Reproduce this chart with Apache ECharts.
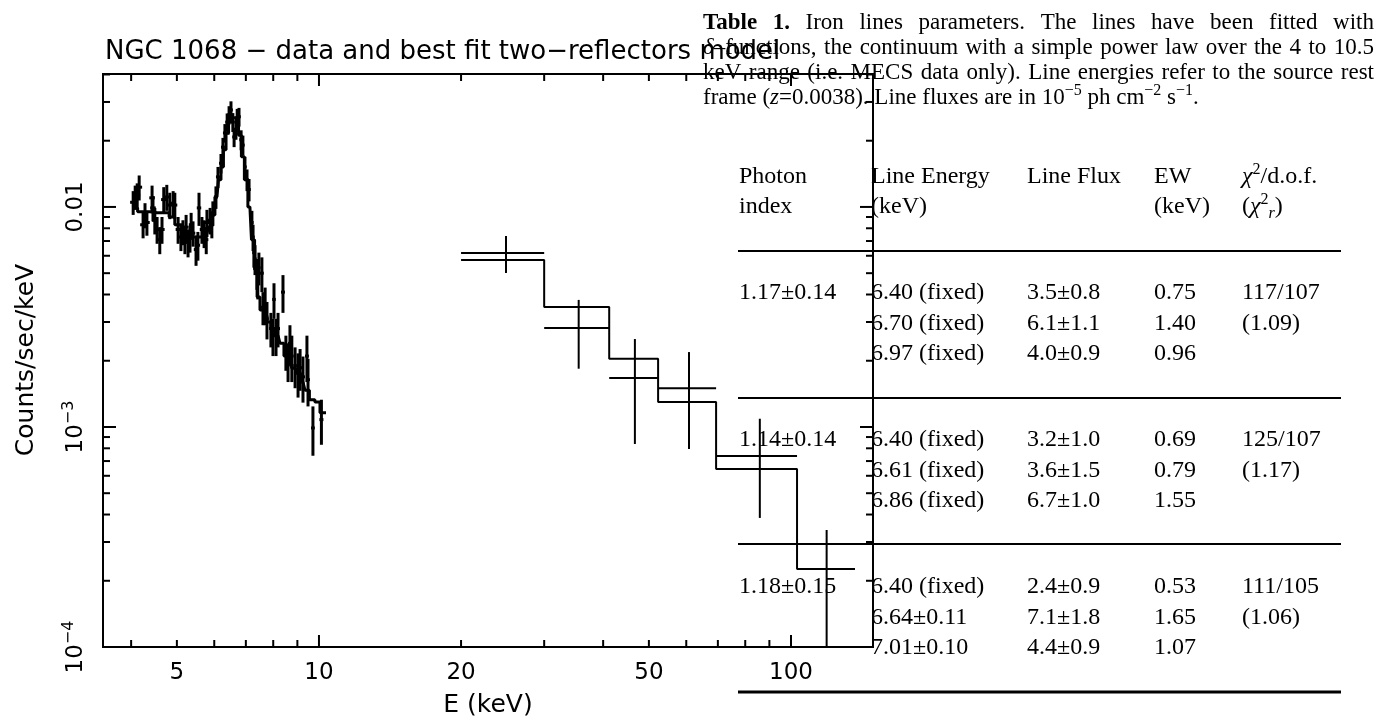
<!DOCTYPE html>
<html>
<head>
<meta charset="utf-8">
<title>NGC 1068</title>
<script src="https://cdn.jsdelivr.net/npm/echarts@6.0.0/dist/echarts.min.js"></script>
<style>
  html, body { margin: 0; padding: 0; background: #fff; }
  #chart { width: 1380px; height: 721px; }
</style>
</head>
<body>
<div id="chart"></div>
<script>
// MECS points: [E (keV), half bin width, counts/sec/keV, 1 sigma]
var mecsData = [
  [4.04, 0.06, 0.0105, 0.0013], [4.08, 0.06, 0.0111, 0.0014], [4.12, 0.06, 0.0113, 0.0015],
  [4.16, 0.06, 0.0123, 0.0016], [4.24, 0.06, 0.0083, 0.0011], [4.28, 0.06, 0.0092, 0.0012],
  [4.32, 0.06, 0.0085, 0.0011], [4.43, 0.06, 0.0110, 0.0015], [4.45, 0.06, 0.0099, 0.0013],
  [4.49, 0.06, 0.0087, 0.0012], [4.54, 0.06, 0.0079, 0.0011], [4.60, 0.06, 0.0071, 0.0010],
  [4.65, 0.06, 0.0079, 0.0011], [4.69, 0.06, 0.0108, 0.0015], [4.76, 0.06, 0.0111, 0.0015],
  [4.83, 0.06, 0.0102, 0.0014], [4.91, 0.06, 0.0104, 0.0014], [4.95, 0.06, 0.0102, 0.0014],
  [5.03, 0.06, 0.0079, 0.0011], [5.10, 0.06, 0.0073, 0.0010], [5.15, 0.06, 0.0077, 0.0010],
  [5.20, 0.06, 0.0071, 0.0010], [5.23, 0.06, 0.0081, 0.0011], [5.28, 0.06, 0.0069, 0.0010],
  [5.33, 0.06, 0.0072, 0.0010], [5.36, 0.06, 0.0083, 0.0011], [5.41, 0.06, 0.0076, 0.0010],
  [5.49, 0.06, 0.0064, 0.0010], [5.54, 0.06, 0.0067, 0.0010], [5.57, 0.06, 0.0099, 0.0017],
  [5.65, 0.06, 0.0079, 0.0011], [5.71, 0.06, 0.0076, 0.0011], [5.77, 0.06, 0.0071, 0.0010],
  [5.79, 0.06, 0.0085, 0.0012], [5.88, 0.06, 0.0087, 0.0012], [5.93, 0.06, 0.0083, 0.0011],
  [5.96, 0.06, 0.0094, 0.0012], [6.05, 0.06, 0.0111, 0.0013], [6.11, 0.06, 0.0137, 0.0015],
  [6.20, 0.06, 0.0158, 0.0016], [6.26, 0.06, 0.0187, 0.0019], [6.32, 0.06, 0.0217, 0.0021],
  [6.39, 0.06, 0.0243, 0.0023], [6.42, 0.06, 0.0236, 0.0023], [6.45, 0.06, 0.0262, 0.0025],
  [6.51, 0.06, 0.0276, 0.0026], [6.57, 0.06, 0.0243, 0.0024], [6.61, 0.06, 0.0208, 0.0021],
  [6.67, 0.06, 0.0224, 0.0022], [6.71, 0.06, 0.0254, 0.0025], [6.77, 0.06, 0.0257, 0.0025],
  [6.84, 0.06, 0.0202, 0.0021], [6.90, 0.06, 0.0191, 0.0020], [6.97, 0.06, 0.0152, 0.0017],
  [7.04, 0.06, 0.0133, 0.0015], [7.11, 0.06, 0.0120, 0.0014], [7.21, 0.06, 0.0085, 0.0011],
  [7.25, 0.06, 0.0073, 0.0010], [7.28, 0.06, 0.0062, 0.0009], [7.32, 0.06, 0.0058, 0.0009],
  [7.39, 0.06, 0.0050, 0.0008], [7.42, 0.06, 0.0045, 0.0007], [7.46, 0.06, 0.0053, 0.0009],
  [7.57, 0.07, 0.0050, 0.0009], [7.61, 0.07, 0.0035, 0.0006], [7.69, 0.07, 0.0036, 0.0007],
  [7.76, 0.07, 0.0031, 0.0006], [7.91, 0.07, 0.0028, 0.0005], [7.99, 0.07, 0.0026, 0.0005],
  [8.03, 0.07, 0.0038, 0.0007], [8.11, 0.07, 0.0026, 0.0005], [8.19, 0.08, 0.0028, 0.0005],
  [8.39, 0.08, 0.0041, 0.0008], [8.51, 0.08, 0.0022, 0.0004], [8.60, 0.08, 0.0020, 0.0004],
  [8.68, 0.08, 0.0024, 0.0005], [8.76, 0.08, 0.0021, 0.0005], [8.90, 0.08, 0.0019, 0.0004],
  [9.03, 0.09, 0.00176, 0.0004], [9.12, 0.09, 0.00186, 0.0004], [9.25, 0.09, 0.00169, 0.0004],
  [9.43, 0.09, 0.0021, 0.0005], [9.48, 0.09, 0.00164, 0.0004], [9.71, 0.09, 0.00099, 0.00025],
  [10.12, 0.1, 0.00108, 0.00025]
];

// PDS points: [E, E low, E high, rate, rate low, rate high]
var pdsData = [
  [24.9, 20, 30, 6.18e-3, 5.01e-3, 7.38e-3],
  [35.5, 30, 41.2, 2.82e-3, 1.84e-3, 3.78e-3],
  [46.7, 41.2, 52.3, 1.67e-3, 8.37e-4, 2.51e-3],
  [60.8, 52.3, 69.4, 1.50e-3, 7.94e-4, 2.19e-3],
  [85.9, 69.4, 103, 7.38e-4, 3.86e-4, 1.09e-3],
  [119, 103, 136.6, 2.26e-4, 1e-6, 3.40e-4]
];

// best fit model (two reflectors)
var mecsModel = [
  [4.02, 0.0099], [4.24, 0.0095], [4.54, 0.0094], [4.76, 0.0094], [4.87, 0.0090],
  [5.03, 0.0083], [5.25, 0.0076], [5.52, 0.0073], [5.65, 0.0073], [5.79, 0.0076],
  [5.88, 0.0081], [5.96, 0.0092], [6.08, 0.0111], [6.17, 0.0133], [6.23, 0.0152],
  [6.32, 0.0182], [6.39, 0.0217], [6.48, 0.0243], [6.55, 0.0254], [6.64, 0.0254],
  [6.71, 0.0243], [6.80, 0.0212], [6.90, 0.0169], [7.00, 0.0133], [7.14, 0.0100],
  [7.25, 0.0071], [7.36, 0.0052], [7.43, 0.0039], [7.57, 0.0034], [7.69, 0.0032],
  [7.83, 0.0030], [7.99, 0.0028], [8.19, 0.0026], [8.35, 0.0024], [8.51, 0.0021],
  [8.68, 0.00195], [8.85, 0.00185], [9.03, 0.00176], [9.25, 0.0016], [9.43, 0.00147],
  [9.66, 0.00133], [9.95, 0.0013], [10.15, 0.00116], [10.35, 0.00116]
];
var pdsModel = [
  [20, 5.74e-3], [30, 3.51e-3], [41.2, 2.04e-3], [52.3, 1.30e-3],
  [69.4, 6.44e-4], [103, 2.26e-4], [136.6, 2.26e-4]
];

var xMajorTicks = [10, 100];
var xMinorTicks = [4, 5, 6, 7, 8, 9, 20, 30, 40, 50, 60, 70, 80, 90];
var xTickLabels = [5, 10, 20, 50, 100];
var yMajorTicks = [0.0001, 0.001, 0.01];
var yMinorTicks = [2e-4, 3e-4, 4e-4, 5e-4, 6e-4, 7e-4, 8e-4, 9e-4,
  2e-3, 3e-3, 4e-3, 5e-3, 6e-3, 7e-3, 8e-3, 9e-3, 0.02, 0.03, 0.04];
var yTickLabels = [0.0001, 0.001, 0.01];
var yTickTexts = ['{n|10}{s|−4}', '{n|10}{s|−3}', '{n|0.01}'];

var xMin = 3.487, xMax = 149.2, yMin = 1e-4, yMax = 0.0402;

// table 1
var photonIndex = ['1.17±0.14', '1.14±0.14', '1.18±0.15'];
var lineEnergy = [
  ['6.40 (fixed)', '6.70 (fixed)', '6.97 (fixed)'],
  ['6.40 (fixed)', '6.61 (fixed)', '6.86 (fixed)'],
  ['6.40 (fixed)', '6.64±0.11', '7.01±0.10']
];
var lineFlux = [
  ['3.5±0.8', '6.1±1.1', '4.0±0.9'],
  ['3.2±1.0', '3.6±1.5', '6.7±1.0'],
  ['2.4±0.9', '7.1±1.8', '4.4±0.9']
];
var lineEW = [
  ['0.75', '1.40', '0.96'],
  ['0.69', '0.79', '1.55'],
  ['0.53', '1.65', '1.07']
];
var chiSquare = [['117/107', '(1.09)'], ['125/107', '(1.17)'], ['111/105', '(1.06)']];
var captionLines = [
  '{b|Table} {b|1.} Iron lines parameters. The lines have been fitted with',
  '{i|δ}–functions, the continuum with a simple power law over the 4 to 10.5',
  'keV range (i.e. MECS data only). Line energies refer to the source rest'
];
var captionLast = 'frame ({i|z}=0.0038). Line fluxes are in 10{sup|−5} ph cm{sup|−2} s{sup|−1}.';

var SANS = 'DejaVu Sans';
var SERIF = 'Liberation Serif';

function errorBarItem(width) {
  return function (params, api) {
    var l = api.coord([api.value(1), api.value(3)]);
    var r = api.coord([api.value(2), api.value(3)]);
    var lo = api.coord([api.value(0), api.value(4)]);
    var hi = api.coord([api.value(0), api.value(5)]);
    var st = { stroke: '#000', lineWidth: width };
    return {
      type: 'group', children: [
        { type: 'line', shape: { x1: l[0], y1: l[1], x2: r[0], y2: r[1] }, style: st },
        { type: 'line', shape: { x1: lo[0], y1: lo[1], x2: hi[0], y2: hi[1] }, style: st }
      ]
    };
  };
}

function xTickItem(len) {
  return function (params, api) {
    var b = api.coord([api.value(0), yMin]);
    var t = api.coord([api.value(0), yMax]);
    var st = { stroke: '#000', lineWidth: 2 };
    return {
      type: 'group', children: [
        { type: 'line', shape: { x1: b[0], y1: b[1], x2: b[0], y2: b[1] - len }, style: st },
        { type: 'line', shape: { x1: t[0], y1: t[1], x2: t[0], y2: t[1] + len }, style: st }
      ]
    };
  };
}

function yTickItem(len) {
  return function (params, api) {
    var l = api.coord([xMin, api.value(1)]);
    var r = api.coord([xMax, api.value(1)]);
    var st = { stroke: '#000', lineWidth: 2 };
    return {
      type: 'group', children: [
        { type: 'line', shape: { x1: l[0], y1: l[1], x2: l[0] + len, y2: l[1] }, style: st },
        { type: 'line', shape: { x1: r[0], y1: r[1], x2: r[0] - len, y2: r[1] }, style: st }
      ]
    };
  };
}

function tickSeries(data, render) {
  return {
    type: 'custom', silent: true, clip: false,
    encode: { x: 0, y: 1 },
    data: data, renderItem: render
  };
}

function serifRich(size) {
  return {
    b: { fontFamily: SERIF, fontSize: size, fontWeight: 'bold', lineHeight: 30 },
    i: { fontFamily: SERIF, fontSize: size, fontStyle: 'italic', lineHeight: 30 },
    sup: { fontFamily: SERIF, fontSize: Math.round(size * 0.68), lineHeight: 14, verticalAlign: 'top' },
    sub: { fontFamily: SERIF, fontSize: Math.round(size * 0.68), fontStyle: 'italic', lineHeight: 12, verticalAlign: 'bottom' }
  };
}

function serifText(str, x, y, size) {
  return {
    type: 'text', x: x, y: y, silent: true,
    style: {
      text: str, fontFamily: SERIF, fontSize: size, lineHeight: 30, fill: '#000',
      textAlign: 'left', align: 'left', textVerticalAlign: 'middle', verticalAlign: 'middle',
      rich: serifRich(size)
    }
  };
}

// caption, justified between capLeft and capRight
var capLeft = 703, capRight = 1374, capSize = 23;
var capY = [23, 48, 73, 98];
var measureCtx = document.createElement('canvas').getContext('2d');
function plainText(s) { return s.replace(/\{\w+\|([^}]*)\}/g, '$1'); }
function wordWidth(w) {
  measureCtx.font = (w.indexOf('{b|') >= 0 ? 'bold ' : '') + capSize + 'px "' + SERIF + '"';
  return measureCtx.measureText(plainText(w)).width;
}
function justifiedLine(str, y) {
  var words = str.split(' ');
  var widths = words.map(wordWidth);
  var total = widths.reduce(function (a, b) { return a + b; }, 0);
  var gap = (capRight - capLeft - total) / (words.length - 1);
  var x = capLeft, out = [];
  words.forEach(function (w, i) {
    out.push(serifText(w, x, y, capSize));
    x += widths[i] + gap;
  });
  return out;
}

var graphics = [];
captionLines.forEach(function (line, i) {
  graphics = graphics.concat(justifiedLine(line, capY[i]));
});
graphics.push(serifText(captionLast, capLeft, capY[3], capSize));

// table body
var bodySize = 24;
var colX = [739, 871, 1027, 1154, 1242];
var headY = [177, 207];
var groupY = [293, 440, 587];
var rowStep = 30.5;
var ruleY = [251, 398, 544];
graphics.push(serifText('Photon', colX[0], headY[0], bodySize));
graphics.push(serifText('index', colX[0], headY[1], bodySize));
graphics.push(serifText('Line Energy', colX[1], headY[0], bodySize));
graphics.push(serifText('(keV)', colX[1], headY[1], bodySize));
graphics.push(serifText('Line Flux', colX[2], headY[0], bodySize));
graphics.push(serifText('EW', colX[3], headY[0], bodySize));
graphics.push(serifText('(keV)', colX[3], headY[1], bodySize));
graphics.push(serifText('{i|χ}{sup|2}/d.o.f.', colX[4], headY[0], bodySize));
graphics.push(serifText('({i|χ}{sup|2}{sub|r})', colX[4], headY[1], bodySize));
photonIndex.forEach(function (p, g) {
  var y0 = groupY[g];
  graphics.push(serifText(p, colX[0], y0, bodySize));
  for (var k = 0; k < 3; k++) {
    graphics.push(serifText(lineEnergy[g][k], colX[1], y0 + k * rowStep, bodySize));
    graphics.push(serifText(lineFlux[g][k], colX[2], y0 + k * rowStep, bodySize));
    graphics.push(serifText(lineEW[g][k], colX[3], y0 + k * rowStep, bodySize));
  }
  graphics.push(serifText(chiSquare[g][0], colX[4], y0, bodySize));
  graphics.push(serifText(chiSquare[g][1], colX[4], y0 + rowStep, bodySize));
});
ruleY.forEach(function (y) {
  graphics.push({ type: 'line', silent: true, shape: { x1: 738, y1: y, x2: 1341, y2: y }, style: { stroke: '#000', lineWidth: 2 } });
});
graphics.push({ type: 'line', silent: true, shape: { x1: 738, y1: 692, x2: 1341, y2: 692 }, style: { stroke: '#000', lineWidth: 3 } });

// plot title and axis names
graphics.push({
  type: 'text', x: 105, y: 52, silent: true,
  style: { text: 'NGC 1068 − data and best fit two−reflectors model', fontFamily: SANS, fontSize: 26, fill: '#000',
    textAlign: 'left', align: 'left', textVerticalAlign: 'middle', verticalAlign: 'middle' }
});
graphics.push({
  type: 'text', x: 488, y: 705, silent: true,
  style: { text: 'E (keV)', fontFamily: SANS, fontSize: 25, fill: '#000',
    textAlign: 'center', align: 'center', textVerticalAlign: 'middle', verticalAlign: 'middle' }
});
graphics.push({
  type: 'text', x: 26, y: 360, rotation: Math.PI / 2, silent: true,
  style: { text: 'Counts/sec/keV', fontFamily: SANS, fontSize: 25, fill: '#000',
    textAlign: 'center', align: 'center', textVerticalAlign: 'middle', verticalAlign: 'middle' }
});

var chart = echarts.init(document.getElementById('chart'), null, { renderer: 'canvas' });

var option = {
  backgroundColor: '#ffffff',
  animation: false,
  grid: {
    left: 103, right: 507, top: 74, bottom: 74,
    show: true, borderColor: '#000', borderWidth: 2, backgroundColor: 'transparent'
  },
  xAxis: {
    type: 'log', logBase: 10, min: xMin, max: xMax,
    axisLine: { show: false }, axisTick: { show: false },
    axisLabel: { show: false }, splitLine: { show: false }
  },
  yAxis: {
    type: 'log', logBase: 10, min: yMin, max: yMax,
    axisLine: { show: false }, axisTick: { show: false },
    axisLabel: { show: false }, splitLine: { show: false }
  },
  graphic: { elements: graphics },
  series: [
    {
      name: 'MECS', type: 'custom', silent: true, clip: true,
      encode: { x: 0, y: 3 },
      data: mecsData.map(function (d) {
        return [d[0], d[0] - d[1], d[0] + d[1], d[2], d[2] - d[3], d[2] + d[3]];
      }),
      renderItem: errorBarItem(3)
    },
    {
      name: 'PDS', type: 'custom', silent: true, clip: true,
      encode: { x: 0, y: 3 },
      data: pdsData,
      renderItem: errorBarItem(2)
    },
    {
      name: 'MECS model', type: 'line', silent: true, step: 'middle',
      showSymbol: false, symbol: 'none', clip: true,
      lineStyle: { color: '#000', width: 3 },
      data: mecsModel
    },
    {
      name: 'PDS model', type: 'line', silent: true, step: 'end',
      showSymbol: false, symbol: 'none', clip: true,
      lineStyle: { color: '#000', width: 2 },
      data: pdsModel
    },
    tickSeries(xMajorTicks.map(function (v) { return [v, yMin]; }), xTickItem(12)),
    tickSeries(xMinorTicks.map(function (v) { return [v, yMin]; }), xTickItem(7)),
    tickSeries(yMajorTicks.map(function (v) { return [xMin, v]; }), yTickItem(13)),
    tickSeries(yMinorTicks.map(function (v) { return [xMin, v]; }), yTickItem(7)),
    tickSeries(xTickLabels.map(function (v) { return [v, yMin]; }), function (params, api) {
      var p = api.coord([api.value(0), yMin]);
      return {
        type: 'text', x: p[0], y: p[1] + 26,
        style: { text: String(api.value(0)), fontFamily: SANS, fontSize: 23, fill: '#000',
          textAlign: 'center', align: 'center', textVerticalAlign: 'middle', verticalAlign: 'middle' }
      };
    }),
    tickSeries(yTickLabels.map(function (v) { return [xMin, v]; }), function (params, api) {
      var p = api.coord([xMin, api.value(1)]);
      return {
        type: 'text', x: p[0] - 27, y: p[1], rotation: Math.PI / 2,
        style: {
          text: yTickTexts[params.dataIndex], fontFamily: SANS, fontSize: 23, fill: '#000',
          textAlign: 'center', align: 'center', textVerticalAlign: 'middle', verticalAlign: 'middle',
          rich: {
            n: { fontFamily: SANS, fontSize: 23, lineHeight: 30 },
            s: { fontFamily: SANS, fontSize: 16, lineHeight: 14, verticalAlign: 'top' }
          }
        }
      };
    })
  ]
};

chart.setOption(option);
</script>
</body>
</html>
